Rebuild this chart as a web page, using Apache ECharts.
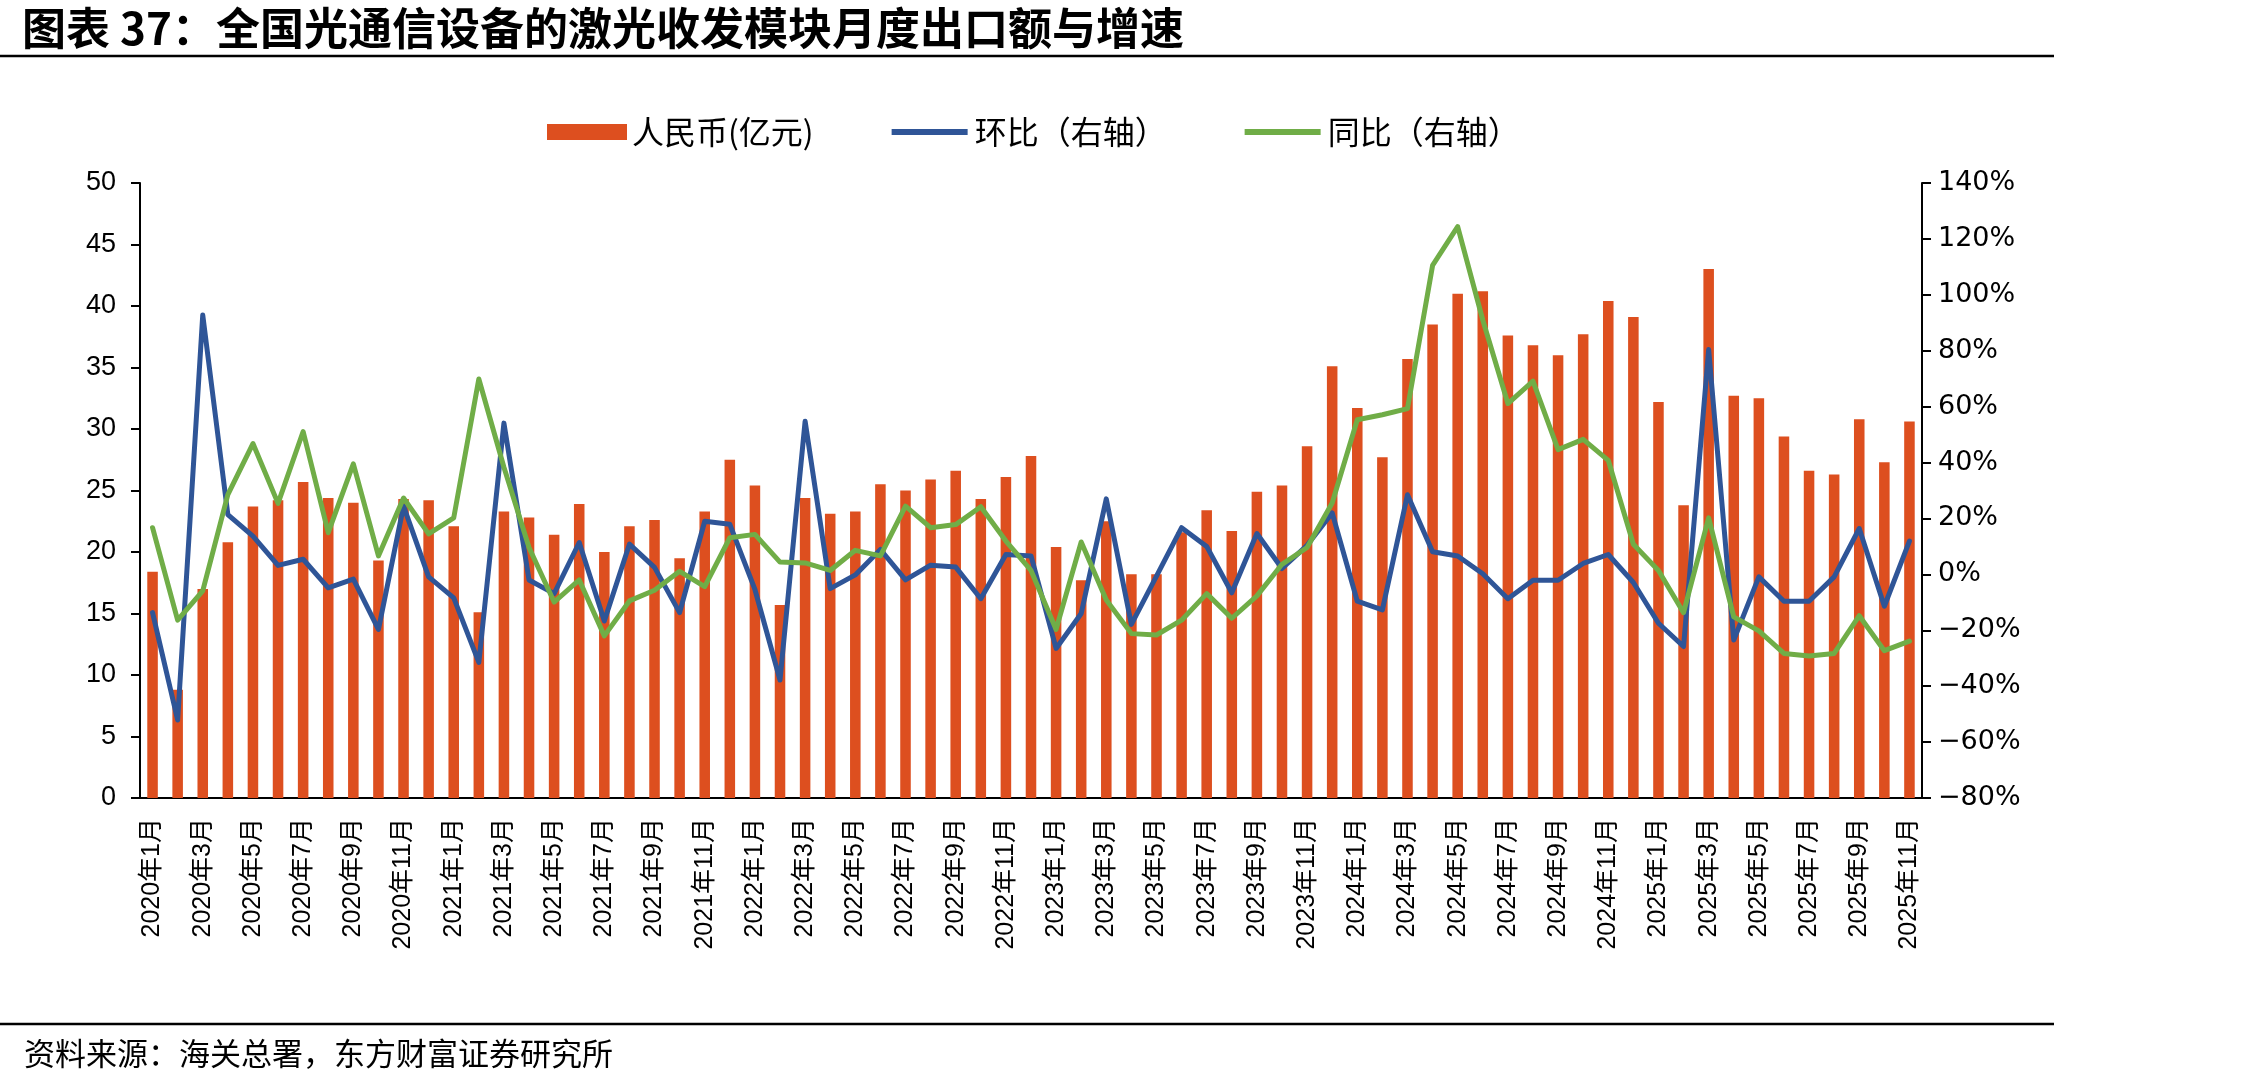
<!DOCTYPE html>
<html>
<head>
<meta charset="utf-8">
<title>激光收发模块月度出口额与增速</title>
<script src="https://cdn.jsdelivr.net/npm/echarts@6/dist/echarts.min.js"></script>
<style>
  html, body { margin: 0; padding: 0; background: #fff; }
  #chart { width: 2245px; height: 1069px; }
</style>
</head>
<body>
<div id="chart"></div>
<script>
// months 2020-01 .. 2025-11
const months = [
  '2020年1月','2020年2月','2020年3月','2020年4月','2020年5月','2020年6月','2020年7月','2020年8月','2020年9月','2020年10月','2020年11月','2020年12月',
  '2021年1月','2021年2月','2021年3月','2021年4月','2021年5月','2021年6月','2021年7月','2021年8月','2021年9月','2021年10月','2021年11月','2021年12月',
  '2022年1月','2022年2月','2022年3月','2022年4月','2022年5月','2022年6月','2022年7月','2022年8月','2022年9月','2022年10月','2022年11月','2022年12月',
  '2023年1月','2023年2月','2023年3月','2023年4月','2023年5月','2023年6月','2023年7月','2023年8月','2023年9月','2023年10月','2023年11月','2023年12月',
  '2024年1月','2024年2月','2024年3月','2024年4月','2024年5月','2024年6月','2024年7月','2024年8月','2024年9月','2024年10月','2024年11月','2024年12月',
  '2025年1月','2025年2月','2025年3月','2025年4月','2025年5月','2025年6月','2025年7月','2025年8月','2025年9月','2025年10月','2025年11月'
];

// 人民币(亿元)
const exportValue = [
  18.4, 8.8, 17.0, 20.8, 23.7, 24.2, 25.7, 24.4, 24.0, 19.3, 24.3, 24.2,
  22.1, 15.1, 23.3, 22.8, 21.4, 23.9, 20.0, 22.1, 22.6, 19.5, 23.3, 27.5,
  25.4, 15.7, 24.4, 23.1, 23.3, 25.5, 25.0, 25.9, 26.6, 24.3, 26.1, 27.8,
  20.4, 17.7, 22.5, 18.2, 18.2, 21.6, 23.4, 21.7, 24.9, 25.4, 28.6, 35.1,
  31.7, 27.7, 35.7, 38.5, 41.0, 41.2, 37.6, 36.8, 36.0, 37.7, 40.4, 39.1,
  32.2, 23.8, 43.0, 32.7, 32.5, 29.4, 26.6, 26.3, 30.8, 27.3, 30.6
];

// 环比 (%)
const momGrowth = [
  -13.7, -52.1, 92.8, 21.4, 13.7, 3.2, 5.4, -4.8, -1.7, -19.7, 24.4, -0.9,
  -8.4, -31.5, 54.1, -2.0, -6.9, 11.4, -16.7, 10.8, 2.5, -13.7, 19.0, 17.9,
  -5.4, -37.8, 54.8, -5.1, -0.2, 8.9, -2.0, 3.3, 2.6, -8.7, 7.1, 6.6,
  -26.5, -14.0, 27.0, -17.9, -0.6, 16.7, 10.0, -6.6, 14.6, 2.1, 10.4, 22.0,
  -9.6, -12.7, 28.5, 8.1, 6.6, 0.2, -8.7, -2.1, -2.1, 3.9, 7.1, -2.9,
  -17.5, -25.8, 80.4, -23.5, -0.9, -9.6, -9.6, -0.9, 16.4, -11.4, 11.9
];

// 同比 (%)
const yoyGrowth = [
  16.7, -16.4, -5.9, 28.5, 46.8, 25.4, 51.1, 14.9, 39.5, 6.6, 27.3, 14.5,
  20.2, 69.9, 38.3, 9.6, -9.9, -2.0, -22.0, -9.5, -5.7, 1.1, -4.4, 13.1,
  14.3, 4.4, 4.1, 1.4, 8.6, 6.6, 24.4, 16.7, 17.8, 24.2, 11.9, 1.4,
  -19.7, 11.6, -9.2, -21.2, -21.7, -16.4, -6.9, -15.7, -7.7, 3.6, 9.6, 25.5,
  55.3, 57.1, 59.3, 110.5, 124.4, 91.0, 61.1, 69.1, 44.6, 48.3, 40.8, 10.8,
  1.4, -13.7, 20.2, -15.2, -20.2, -28.3, -29.2, -28.3, -14.8, -27.3, -23.9
];

const chart = echarts.init(document.getElementById('chart'));

const cjk = '"Noto Sans CJK SC", sans-serif';
const latin = '"Liberation Sans", "Noto Sans CJK SC", sans-serif';
// thick line legend icon (invisible moveTo corners keep the 80x16 box)
const lineIcon = 'path://M0,0 M80,16 M2,5 L78,5 L78,11 L2,11 Z';

const option = {
  backgroundColor: '#fff',
  animation: false,
  graphic: [
    {
      type: 'text', left: 22, top: 6,
      style: { text: '图表 37：全国光通信设备的激光收发模块月度出口额与增速', fontSize: 44, fontWeight: 'bold', fontFamily: cjk, fill: '#000' }
    },
    { type: 'line', shape: { x1: 0, y1: 56, x2: 2054, y2: 56 }, style: { stroke: '#000', lineWidth: 2.5 } },
    { type: 'line', shape: { x1: 0, y1: 1024, x2: 2054, y2: 1024 }, style: { stroke: '#000', lineWidth: 2.5 } },
    {
      type: 'text', left: 24, top: 1038,
      style: { text: '资料来源：海关总署，东方财富证券研究所', fontSize: 31, fontFamily: cjk, fill: '#000' }
    }
  ],
  legend: {
    left: 542, top: 111,
    itemWidth: 80, itemHeight: 16, itemGap: 76,
    textStyle: { fontSize: 32, fontFamily: cjk, color: '#000' },
    data: [
      { name: '人民币(亿元)', icon: 'rect' },
      { name: '环比（右轴）', icon: lineIcon },
      { name: '同比（右轴）', icon: lineIcon }
    ]
  },
  grid: { left: 140, right: 323, top: 183, bottom: 271, containLabel: false },
  xAxis: {
    type: 'category',
    data: months,
    boundaryGap: true,
    axisLine: { lineStyle: { color: '#000', width: 2 } },
    axisTick: { show: false },
    axisLabel: {
      interval: 1, rotate: 90, margin: 20,
      fontSize: 25, fontFamily: latin, color: '#000'
    }
  },
  yAxis: [
    {
      type: 'value', min: 0, max: 50, interval: 5,
      splitLine: { show: false },
      axisLine: { show: true, lineStyle: { color: '#000', width: 2 } },
      axisTick: { show: true, length: 9, lineStyle: { color: '#000', width: 2 } },
      axisLabel: { fontSize: 27, fontFamily: latin, color: '#000', margin: 24 }
    },
    {
      type: 'value', min: -80, max: 140, interval: 20,
      splitLine: { show: false },
      axisLine: { show: true, lineStyle: { color: '#000', width: 2 } },
      axisTick: { show: true, length: 9, lineStyle: { color: '#000', width: 2 } },
      axisLabel: {
        fontSize: 27, fontFamily: '"DejaVu Sans", sans-serif', color: '#000', margin: 16,
        formatter: v => (v < 0 ? '−' : '') + Math.abs(v) + '%'
      }
    }
  ],
  series: [
    {
      name: '人民币(亿元)', type: 'bar', yAxisIndex: 0,
      data: exportValue, barWidth: '42%',
      itemStyle: { color: '#DD4F1F' }
    },
    {
      name: '环比（右轴）', type: 'line', yAxisIndex: 1,
      data: momGrowth, symbol: 'none',
      lineStyle: { color: '#2F5597', width: 5, cap: 'round', join: 'round' },
      itemStyle: { color: '#2F5597' }
    },
    {
      name: '同比（右轴）', type: 'line', yAxisIndex: 1,
      data: yoyGrowth, symbol: 'none',
      lineStyle: { color: '#70AD47', width: 5, cap: 'round', join: 'round' },
      itemStyle: { color: '#70AD47' }
    }
  ]
};

chart.setOption(option);
</script>
</body>
</html>
